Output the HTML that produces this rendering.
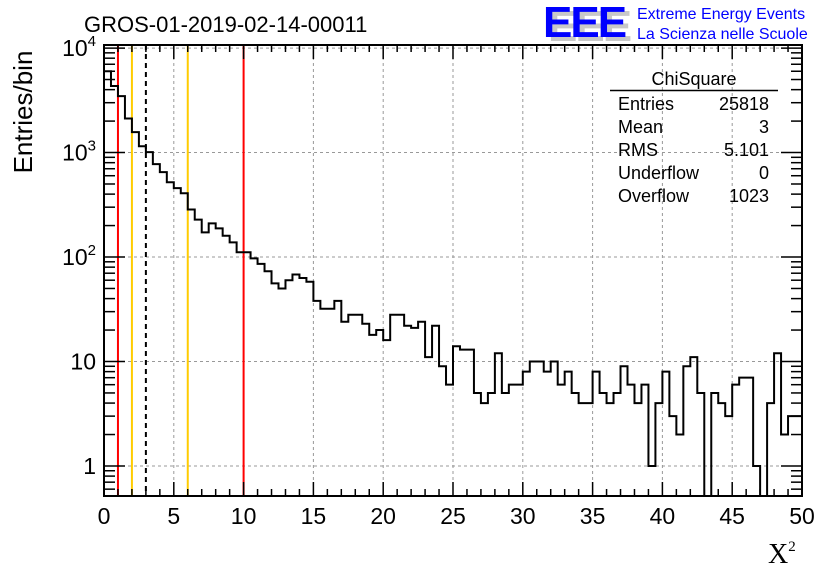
<!DOCTYPE html>
<html><head><meta charset="utf-8"><style>
html,body{margin:0;padding:0;background:#fff;}
svg{display:block;font-family:"Liberation Sans",sans-serif;}
</style></head><body>
<svg id="chart" width="836" height="572" viewBox="0 0 836 572">
<rect width="836" height="572" fill="#fff"/>
<text x="84" y="32" font-size="22">GROS-01-2019-02-14-00011</text>
<g>
<text x="548" y="41" font-size="44" font-weight="bold" fill="#c8c8c8" letter-spacing="-2">EEE</text>
<text x="543" y="37" font-size="44" font-weight="bold" fill="#0000ff" letter-spacing="-2">EEE</text>
<text x="637" y="19" font-size="16" fill="#0000ff">Extreme Energy Events</text>
<text x="637" y="39" font-size="16" fill="#0000ff">La Scienza nelle Scuole</text>
</g>
<g id="grid"></g>
<g id="vlines"></g>
<g id="hist"></g>
<g id="axes"></g>
<g font-size="18">
<text x="694" y="85" text-anchor="middle">ChiSquare</text>
<line x1="610" y1="90.5" x2="778" y2="90.5" stroke="#000" stroke-width="1.5"/>
<text x="618" y="110">Entries</text><text x="769" y="110" text-anchor="end">25818</text>
<text x="618" y="133">Mean</text><text x="769" y="133" text-anchor="end">3</text>
<text x="618" y="156">RMS</text><text x="769" y="156" text-anchor="end">5.101</text>
<text x="618" y="179">Underflow</text><text x="769" y="179" text-anchor="end">0</text>
<text x="618" y="202">Overflow</text><text x="769" y="202" text-anchor="end">1023</text>
</g>
<text transform="translate(32,112) rotate(-90)" text-anchor="middle" font-size="26">Entries/bin</text>
<text x="768" y="563" font-size="28" font-family="Liberation Serif, serif">X<tspan font-size="15" dy="-12">2</tspan></text>
</svg>
<script>
const binCounts = [6000,4330,3470,2120,1570,1150,1010,775,650,520,456,408,285,228,172,210,188,160,138,111,111,97,86,73,56,50,60,68,63,58,38,32,32,38,24,28,28,23,18,20,16,28,28,22,21,24,11,22,9,6,14,13,13,5,4,5,12,5,6,6,8,10,10,8,10,6,8,5,4,4,8,5,4,5,9,6,4,6,1,4,8,3,2,9,11,5,0,5,4,3,6,7,7,1,0,4,12,2,3,3];
const xTicks = [0,5,10,15,20,25,30,35,40,45,50];
const yDecades = [1,10,100,1000,10000];
const yLabels = ["1","10","10²","10³","10⁴"];
const markerLines = [{x:1,c:"#ff0000",d:""},{x:2,c:"#ffcc00",d:""},{x:3,c:"#000",d:"5,4"},{x:6,c:"#ffcc00",d:""},{x:10,c:"#ff0000",d:""}];
const X0=104,X1=802,Y0=45,Y1=496,xmin=0,xmax=50,binW=0.5;
const ymin=0.516,ymax=10700;
const NS="http://www.w3.org/2000/svg";
function xs(v){return X0+(v-xmin)/(xmax-xmin)*(X1-X0);}
function ys(v){if(v<=0)return Y1;let y=Y1-(Math.log10(v)-Math.log10(ymin))/(Math.log10(ymax)-Math.log10(ymin))*(Y1-Y0);return Math.max(Y0,Math.min(Y1,y));}
function mk(tag,attrs,parent){const e=document.createElementNS(NS,tag);for(const k in attrs)e.setAttribute(k,attrs[k]);parent.appendChild(e);return e;}
const grid=document.getElementById('grid'),axes=document.getElementById('axes'),vl=document.getElementById('vlines'),hist=document.getElementById('hist');
xTicks.forEach(t=>{if(t>xmin&&t<xmax){const l=mk('line',{x1:xs(t),x2:xs(t),y1:Y0,y2:Y1,stroke:'#999','stroke-dasharray':'3,3','stroke-width':1},grid);

}});
yDecades.forEach(t=>{const y=ys(t);if(y>Y0&&y<Y1){const l=mk('line',{x1:X0,x2:X1,y1:y,y2:y,stroke:'#999','stroke-dasharray':'3,3','stroke-width':1},grid);

}});
markerLines.forEach(m=>{const l=mk('line',{x1:xs(m.x),x2:xs(m.x),y1:Y0,y2:Y1,stroke:m.c,'stroke-width':2},vl);if(m.d)l.setAttribute('stroke-dasharray',m.d);

});
let d='M'+X0+','+Y1;
binCounts.forEach((c,i)=>{const xa=xs(xmin+i*binW),xb=xs(xmin+(i+1)*binW),y=ys(c);d+=' L'+xa+','+y+' L'+xb+','+y;});
d+=' L'+X1+','+Y1;
const hp=mk('path',{d:d,fill:'none',stroke:'#000','stroke-width':2},hist);


const fr=mk('rect',{x:X0,y:Y0,width:X1-X0,height:Y1-Y0,fill:'none',stroke:'#000','stroke-width':2},axes);


for(let v=xmin;v<=xmax;v+=1){const maj=v%5===0;const L=maj?14:7;
mk('line',{x1:xs(v),x2:xs(v),y1:Y1,y2:Y1-L,stroke:'#000','stroke-width':1.5},axes);
mk('line',{x1:xs(v),x2:xs(v),y1:Y0,y2:Y0+L,stroke:'#000','stroke-width':1.5},axes);}
xTicks.forEach(t=>{const tx=mk('text',{x:xs(t),y:524,'text-anchor':'middle','font-size':23},axes);tx.textContent=String(t);

});
for(let e=-1;e<=4;e++){for(let k=1;k<=9;k++){const v=k*Math.pow(10,e);if(v<ymin||v>ymax)continue;const y=ys(v);const L=k===1?21:11;
mk('line',{x1:X0,x2:X0+L,y1:y,y2:y,stroke:'#000','stroke-width':1.5},axes);
mk('line',{x1:X1,x2:X1-L,y1:y,y2:y,stroke:'#000','stroke-width':1.5},axes);}}
yDecades.forEach((t,i)=>{const tx=mk('text',{x:96,y:ys(t)+8,'text-anchor':'end','font-size':23},axes);
const lab=yLabels[i];
if(lab.length>2){tx.textContent='10';const s=mk('tspan',{dy:-10,'font-size':15},tx);s.textContent=lab==="10²"?"2":lab==="10³"?"3":"4";}else tx.textContent=lab;

});
</script>
</body></html>
